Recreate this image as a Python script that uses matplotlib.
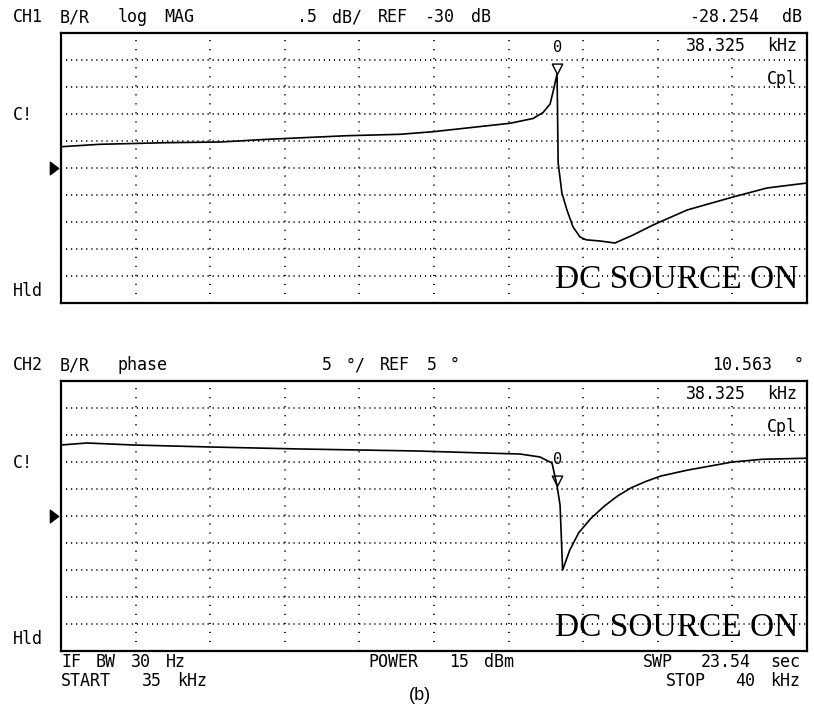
import re
import numpy as np
import matplotlib
matplotlib.use('Agg')
import matplotlib.pyplot as plt
from matplotlib.path import Path

# CH1: log magnitude sweep, 35-40 kHz
freq_mag = [35.000, 35.261, 35.710, 36.066, 36.381, 36.917, 37.272, 37.493,
            38.009, 38.164, 38.231, 38.278, 38.304, 38.325, 38.332, 38.357,
            38.391, 38.432, 38.479, 38.520, 38.613, 38.713, 38.834, 38.968,
            39.196, 39.504, 39.732, 40.000]
mag_db = [-29.606, -29.561, -29.531, -29.519, -29.469, -29.402, -29.376, -29.328,
          -29.172, -29.083, -28.972, -28.815, -28.519, -28.254, -29.900, -30.460,
          -30.778, -31.093, -31.278, -31.330, -31.352, -31.389, -31.241, -31.056,
          -30.778, -30.537, -30.370, -30.278]

# CH2: phase sweep
freq_phase = [35.000, 35.174, 35.483, 35.999, 36.602, 37.386, 37.828, 38.076,
              38.210, 38.291, 38.325, 38.345, 38.362, 38.410, 38.470, 38.550,
              38.640, 38.730, 38.820, 38.920, 39.020, 39.200, 39.380, 39.500,
              39.700, 40.000]
phase_deg = [18.15, 18.52, 18.15, 17.78, 17.41, 17.04, 16.67, 16.48,
             15.93, 14.81, 10.563, 7.00, -5.00, -1.30, 1.90, 4.50,
             6.80, 8.70, 10.20, 11.40, 12.40, 13.50, 14.40, 15.00,
             15.50, 15.70]

mkr_freq = 38.325
mkr_mag = -28.254
mkr_phase = 10.563

start_khz, stop_khz = 35, 40
mag_ref, mag_div = -30, 0.5
phase_ref, phase_div = 5, 5

W, H = 814, 711
PITCH = 11.6
MONO = 'DejaVu Sans Mono'

fig = plt.figure(figsize=(W / 100, H / 100), dpi=100)


def screen_text(x, y, s, right=False, size=12):
    # analyzer display text: words sit on a fixed character grid (pixel coords)
    x0 = x - len(s) * PITCH if right else x
    for m in re.finditer(r'\S+', s):
        fig.text((x0 + m.start() * PITCH) / W, 1 - y / H, m.group(),
                 ha='left', va='baseline', family=MONO, fontsize=size)


# right-pointing reference arrow, tip on the right
ref_arrow = Path([(-0.33, -0.5), (-0.33, 0.5), (0.33, 0), (-0.33, -0.5)],
                 [Path.MOVETO, Path.LINETO, Path.LINETO, Path.CLOSEPOLY])
# down-pointing marker triangle with its tip at the data point
mkr_tri = Path([(0, 0), (-0.5, 1), (0.5, 1), (0, 0)],
               [Path.MOVETO, Path.LINETO, Path.LINETO, Path.CLOSEPOLY])


def setup_grid(ax, ref, per_div):
    ax.set_xlim(start_khz, stop_khz)
    ax.set_ylim(ref - 5 * per_div, ref + 5 * per_div)
    ax.set_xticks(np.linspace(start_khz, stop_khz, 11))
    ax.set_yticks(np.linspace(ref - 5 * per_div, ref + 5 * per_div, 11))
    ax.tick_params(length=0, labelbottom=False, labelleft=False)
    for v in ax.get_xticks()[1:-1]:
        ax.axvline(v, color='black', lw=1.3, ls=(0, (0.6, 4.4)), zorder=1)
    for v in ax.get_yticks()[1:-1]:
        ax.axhline(v, color='black', lw=1.3, ls=(0, (0.6, 2.2)), zorder=1)
    for sp in ax.spines.values():
        sp.set_linewidth(1.6)
    ax.plot([-0.0094], [ref], marker=ref_arrow, ms=9, color='black',
            transform=ax.get_yaxis_transform(), clip_on=False)


def draw_marker(ax, f, val):
    ax.plot([f], [val], marker=mkr_tri, ms=15, mfc='none', mec='black',
            mew=1.0, zorder=4)
    ax.annotate('0', (f, val), xytext=(0, 22), textcoords='offset pixels',
                ha='center', va='baseline', family=MONO, fontsize=11)


ax1 = fig.add_axes([61 / W, 1 - 303 / H, 746 / W, 270 / H])
setup_grid(ax1, mag_ref, mag_div)
ax1.plot(freq_mag, mag_db, color='black', lw=1.2, zorder=3)
draw_marker(ax1, mkr_freq, mkr_mag)

ax2 = fig.add_axes([61 / W, 1 - 651 / H, 746 / W, 270 / H])
setup_grid(ax2, phase_ref, phase_div)
ax2.plot(freq_phase, phase_deg, color='black', lw=1.2, zorder=3)
draw_marker(ax2, mkr_freq, mkr_phase)

# channel headers
screen_text(13, 22, 'CH1 B/R  log MAG')
screen_text(297, 22, '.5 dB/ REF -30 dB')
screen_text(805, 22, '%.3f dB' % mkr_mag, right=True)
screen_text(13, 370, 'CH2 B/R  phase')
screen_text(322, 370, '5 °/ REF 5 °')
screen_text(805, 370, '%.3f °' % mkr_phase, right=True)

# marker readouts inside the grids
for top in (33, 381):
    screen_text(802, top + 18, '%.3f kHz' % mkr_freq, right=True)
    screen_text(802, top + 51, 'Cpl', right=True)
    screen_text(13, top + 87, 'C!')
    screen_text(13, top + 263, 'Hld')
    fig.text(798 / W, 1 - (top + 255) / H, 'DC SOURCE ON', ha='right',
             va='baseline', family='Liberation Serif', fontsize=24)

# sweep settings
screen_text(61, 667, 'IF BW 30 Hz')
screen_text(61, 686, 'START  35 kHz')
screen_text(368, 667, 'POWER  15 dBm')
screen_text(805, 667, 'SWP  23.54 sec', right=True)
screen_text(805, 686, 'STOP  40 kHz', right=True)

fig.text(420 / W, 1 - 695 / H, '(b)', ha='center', va='center',
         family='Liberation Sans', fontsize=13)

fig.savefig('out.png', dpi=100)
